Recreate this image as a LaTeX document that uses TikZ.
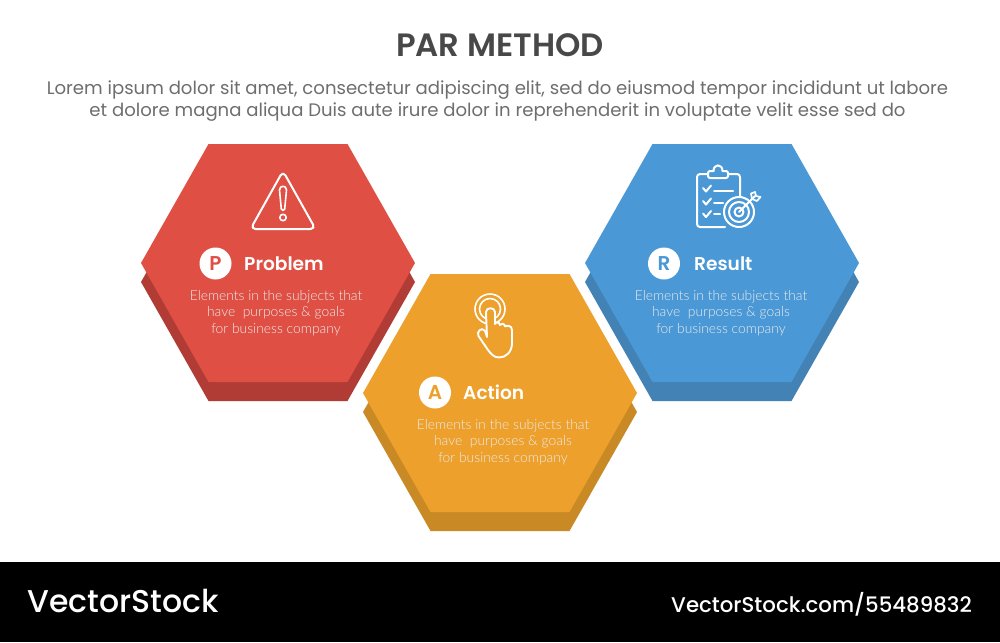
\documentclass[tikz,border=0pt]{standalone}
\usepackage{fontspec}
\setmainfont{Lato}
\newfontfamily\popsemi{Poppins SemiBold}
\newfontfamily\popreg{Poppins}
\newfontfamily\popmed{Poppins Medium}
\newfontfamily\latolight{Lato Light}
\definecolor{redM}{HTML}{E04F44}\definecolor{redS}{HTML}{B03C35}
\definecolor{oraM}{HTML}{EDA02B}\definecolor{oraS}{HTML}{C98A25}
\definecolor{bluM}{HTML}{4A98D6}\definecolor{bluS}{HTML}{4382B5}
\definecolor{titleC}{HTML}{484848}\definecolor{subC}{HTML}{6E6E6E}
\newcommand{\hexpath}{(-69.5,-119) -- (69.5,-119) -- (137,0) -- (69.5,119) -- (-69.5,119) -- (-137,0) -- cycle}
\newcommand{\hexa}[4]{%
 \begin{scope}[shift={(#1,#2)}]
  \fill[#4] (0,19) ++(-69.5,-119) -- ++(139,0) -- ++(67.5,119) -- ++(-67.5,119) -- ++(-139,0) -- ++(-67.5,-119) -- cycle;
  \fill[#3] \hexpath;
 \end{scope}}
\tikzset{
 x=1pt,y=-1pt,
 ico/.style={draw=white,line width=2pt,line cap=round,line join=round},
 badge/.style={circle,fill=white,minimum size=32pt,inner sep=0pt,font=\popsemi\fontsize{20}{20}\selectfont},
 head/.style={anchor=west,inner sep=0pt,text=white,font=\popsemi\fontsize{18.6}{20}\selectfont},
 desc/.style={align=center,inner sep=0pt,text=white!92!black,font=\latolight\fontsize{13.85}{16.5}\selectfont},
 titlestyle/.style={inner sep=0pt,text=titleC,font=\popsemi\fontsize{32.3}{34}\selectfont},
 substyle/.style={inner sep=0pt,text=subC,font=\popreg\fontsize{18.08}{22}\selectfont},
}
\begin{document}
\begin{tikzpicture}
\useasboundingbox (0,0) rectangle (1000,642);
\fill[white] (0,0) rectangle (1000,642);
\fill[black] (0,562) rectangle (1000,642);
\node[titlestyle] (title) at (500,45) {PAR METHOD};
\node[substyle] (sub1) at (497.5,90) {Lorem ipsum dolor sit amet, consectetur adipiscing elit, sed do eiusmod tempor incididunt ut labore};
\node[substyle] (sub2) at (497.5,112) {et dolore magna aliqua Duis aute irure dolor in reprehenderit in voluptate velit esse sed do};
\hexa{278}{263}{redM}{redS}
\hexa{722}{263}{bluM}{bluS}
\hexa{500}{393}{oraM}{oraS}
% Problem
\node[badge,text=redM] (pb) at (215.5,263.5) {P};
\node[head] (ph) at (244,263.5) {Problem};
\node[desc] (pd) at (276,313) {Elements in the subjects that\\have\ \ purposes \& goals\\for business company};
% Action
\node[badge,text=oraM] (ab) at (435,392.5) {A};
\node[head] (ah) at (463,392) {Action};
\node[desc] (ad) at (503,442) {Elements in the subjects that\\have\ \ purposes \& goals\\for business company};
% Result
\node[badge,text=bluM] (rb) at (664,263.5) {R};
\node[head] (rh) at (694,263.5) {Result};
\node[desc] (rd) at (721,313) {Elements in the subjects that\\have\ \ purposes \& goals\\for business company};
% warning icon
\draw[ico,rounded corners=5pt] (283,171) -- (315.5,229) -- (250.5,229) -- cycle;
\draw[ico,line width=1.6pt] (279.5,190) .. controls (279.5,185) and (286.5,185) .. (286.5,190) -- (284.7,209) .. controls (284.5,211) and (281.5,211) .. (281.3,209) -- cycle;
\draw[ico,line width=1.6pt] (283,217.5) circle (3.2);
% hand icon
\draw[ico,line width=1.6pt] (490,309) circle (15);
\draw[ico,line width=1.6pt] (490,309) circle (10.5);
\draw[ico,line width=1.9pt,fill=oraM] (487,337) -- (486,312) .. controls (486,307) and (495,307) .. (495,312) -- (495,324)
  .. controls (496,321.5) and (499.5,322) .. (500,325)
  .. controls (501,323) and (504.5,323) .. (505,326.5)
  .. controls (507,325) and (512,325.5) .. (512,330)
  -- (512,343) .. controls (512,352) and (506,357.5) .. (499,357.5)
  .. controls (494,357.5) and (491,354) .. (488,350)
  -- (478.5,336) .. controls (476,332) and (482,326) .. (485,331) -- (487,337);
% clipboard icon
\draw[ico,rounded corners=3pt] (725,227) -- (697,227) -- (697,174) -- (708,174);
\draw[ico,rounded corners=3pt] (728,174) -- (740,174) -- (740,197);
\draw[ico,rounded corners=2pt] (713.5,171) -- (708,171) -- (708,178) -- (728,178) -- (728,171) -- (722.5,171);
\draw[ico] (713.5,171) .. controls (713.5,163.5) and (722.5,163.5) .. (722.5,171);
\draw[ico] (703,188) -- (706,191.5) -- (711,185.5);
\draw[ico] (703,201) -- (706,204.5) -- (711,198.5);
\draw[ico] (703,213.5) -- (706,217) -- (711,211);
\draw[ico] (714,190.5) -- (733,190.5);
\draw[ico] (714,202.5) -- (723,202.5);
\draw[ico] (714,213.5) -- (720,213.5);
\draw[ico] (739,212) circle (15);
\draw[ico] (739,212) circle (10);
\draw[ico] (739,212) circle (4.5);
\draw[ico] (739,212) -- (755,196);
\draw[ico,line width=1.7pt] (752,199) -- (751,193.5) -- (755,192) -- (756,196) -- (760.5,197) -- (757,201) -- cycle;
% footer
\node[anchor=west,inner sep=0pt,text=white,font=\popmed\fontsize{31.5}{36}\selectfont] (logo) at (27,601) {VectorStock};
\node[anchor=east,inner sep=0pt,text=white,font=\popmed\fontsize{21.3}{24}\selectfont] (url) at (972,604) {VectorStock.com/55489832};
\end{tikzpicture}
\end{document}
